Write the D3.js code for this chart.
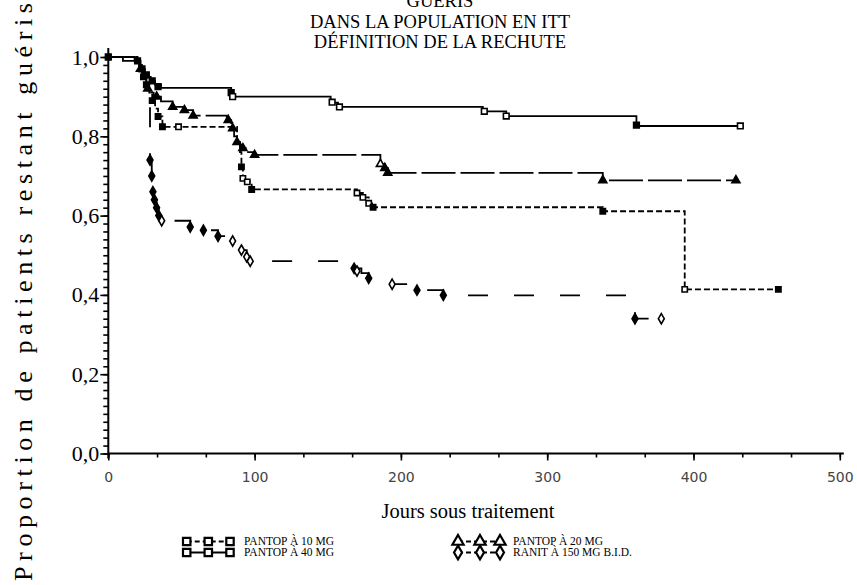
<!DOCTYPE html>
<html>
<head>
<meta charset="utf-8">
<script src="https://cdn.jsdelivr.net/npm/d3@7"></script>
<style>
body { margin: 0; background: #fff; }
svg { display: block; }
text { font-family: "Liberation Serif", "Times New Roman", serif; fill: #000; }
</style>
</head>
<body>
<div id="chart"></div>
<script>
// chart text
var titleLines = ["GUÉRIS", "DANS LA POPULATION EN ITT", "DÉFINITION DE LA RECHUTE"];
var xLabel = "Jours sous traitement";
var yLabel = "Proportion de patients restant guéris";
var xTicks = [0, 100, 200, 300, 400, 500];
var yTicks = [0, 0.2, 0.4, 0.6, 0.8, 1.0];

// Kaplan-Meier steps: [day, proportion]
var pantop40Steps = [[0, 1], [10, 0.99], [21, 0.98], [23, 0.97], [25, 0.96], [27, 0.95], [29, 0.94], [32, 0.93],
  [36, 0.922], [84, 0.90], [152, 0.885], [157, 0.874], [256, 0.863], [272, 0.851], [361, 0.826]];
var pantop40End = 432;
var pantop20Steps = [[0, 1], [18, 0.99], [21, 0.97], [23, 0.95], [26, 0.93], [28, 0.91], [31, 0.90], [36, 0.888],
  [44, 0.874], [52, 0.866], [58, 0.852], [81, 0.841], [84, 0.82], [86, 0.80], [88, 0.785], [90, 0.77], [94, 0.76],
  [100, 0.753], [186, 0.73], [189, 0.72], [191, 0.708], [338, 0.689]];
var pantop20End = 429;
var pantop10Steps = [[0, 1], [20, 0.99], [22, 0.97], [24, 0.95], [26, 0.93], [28, 0.91], [30, 0.89], [32, 0.87],
  [34, 0.85], [37, 0.824], [88, 0.79], [90, 0.76], [91, 0.723], [92, 0.694], [95, 0.685], [98, 0.666],
  [170, 0.657], [174, 0.646], [178, 0.631], [181, 0.621], [338, 0.611], [394, 0.414]];
var pantop10End = 458;
var ranitSteps = [[0, 1], [19, 0.99], [22, 0.97], [24, 0.95], [26, 0.93], [27, 0.91], [28, 0.88], [28.5, 0.74],
  [29.7, 0.70], [30.5, 0.66], [31.5, 0.64], [33, 0.62], [34.5, 0.60], [36.5, 0.587], [56, 0.571], [65, 0.563],
  [75, 0.548], [85, 0.536], [91, 0.513], [94.6, 0.496], [97, 0.485], [168, 0.467], [173, 0.455], [178, 0.442],
  [194, 0.427], [211, 0.412], [229, 0.399], [360, 0.34]];
var ranitEnd = 378;

// plotted symbols: [day, proportion, filled]
var pantop40Marks = [[0, 1, 1], [20, 0.99, 1], [23, 0.97, 1], [26, 0.955, 1], [30, 0.94, 1], [34, 0.925, 1],
  [84, 0.91, 1], [85, 0.90, 0], [153, 0.886, 0], [158, 0.874, 0], [257, 0.863, 0], [272, 0.851, 0],
  [361, 0.828, 1], [432, 0.826, 0]];
var pantop20Marks = [[22, 0.97, 1], [27, 0.92, 1], [33, 0.90, 1], [44, 0.874, 1], [52, 0.866, 1], [58, 0.852, 1],
  [82, 0.841, 1], [85, 0.82, 1], [88, 0.785, 1], [92, 0.77, 1], [100, 0.753, 1], [186, 0.73, 0],
  [189, 0.72, 1], [191, 0.708, 1], [338, 0.689, 1], [429, 0.689, 1]];
var pantop10Marks = [[24, 0.95, 1], [26, 0.93, 1], [30, 0.89, 1], [34, 0.85, 1], [37, 0.824, 1], [48, 0.824, 0],
  [91, 0.723, 1], [92, 0.694, 0], [95, 0.685, 0], [98, 0.666, 1], [170, 0.657, 0], [174, 0.646, 0],
  [178, 0.631, 0], [181, 0.621, 1], [338, 0.611, 1], [394, 0.414, 0], [458, 0.414, 1]];
var ranitMarks = [[28.5, 0.74, 1], [29.7, 0.70, 1], [30.5, 0.66, 1], [31.5, 0.64, 1], [33, 0.62, 1],
  [34.5, 0.60, 1], [36.5, 0.587, 0], [56, 0.571, 1], [65, 0.563, 1], [75, 0.548, 1], [85, 0.536, 0],
  [91, 0.513, 0], [94.6, 0.496, 0], [97, 0.485, 0], [168, 0.467, 1], [170, 0.46, 0], [178, 0.442, 1],
  [194, 0.427, 0], [211, 0.412, 1], [229, 0.399, 1], [360, 0.34, 1], [378, 0.34, 0]];

var seriesNames = ["PANTOP À 10 MG", "PANTOP À 40 MG", "PANTOP À 20 MG", "RANIT À 150 MG B.I.D."];

var svgWidth = 857;
var svgHeight = 585;

var svg = d3.select("#chart")
  .append("svg")
  .attr("width", svgWidth)
  .attr("height", svgHeight);

var x = d3.scaleLinear().domain([0, 500]).range([108.3, 839.8]);
var y = d3.scaleLinear().domain([0, 1]).range([453.5, 57]);

var series = [
  { name: seriesNames[3], steps: ranitSteps, end: ranitEnd, marks: ranitMarks, dash: "20,26", symbol: d3.symbolDiamond, size: 30 },
  { name: seriesNames[0], steps: pantop10Steps, end: pantop10End, marks: pantop10Marks, dash: "6,3", symbol: d3.symbolSquare, size: 28 },
  { name: seriesNames[2], steps: pantop20Steps, end: pantop20End, marks: pantop20Marks, dash: "34,5", symbol: d3.symbolTriangle, size: 28 },
  { name: seriesNames[1], steps: pantop40Steps, end: pantop40End, marks: pantop40Marks, dash: null, symbol: d3.symbolSquare, size: 32 }
];

// title
svg.append("g").selectAll("text")
  .data(titleLines)
  .enter()
  .append("text")
  .attr("x", 440)
  .attr("y", (d, i) => [7, 28, 48][i])
  .attr("text-anchor", "middle")
  .attr("font-size", "18.5px")
  .text(d => d);

// y axis: minor ticks then major ticks with labels
var fmt = d => d3.format(".1f")(d).replace(".", ",");
svg.append("g")
  .attr("transform", `translate(${x(0)},0)`)
  .call(d3.axisLeft(y).tickValues(d3.range(0, 51).map(i => i / 50)).tickSize(5).tickFormat(""))
  .call(g => g.select(".domain").remove())
  .selectAll("line").attr("stroke-width", 1.6);
var yAxis = svg.append("g")
  .attr("transform", `translate(${x(0)},0)`)
  .call(d3.axisLeft(y).tickValues(yTicks).tickSize(8).tickPadding(1).tickFormat(fmt));
yAxis.select(".domain").remove();
yAxis.selectAll("line").attr("stroke-width", 1.6);
yAxis.selectAll("text")
  .style("font-family", "'Liberation Serif', serif")
  .style("font-size", "22px")
  .style("fill", "#000");

// x axis
svg.append("g")
  .attr("transform", `translate(0,${y(0)})`)
  .call(d3.axisBottom(x).tickValues(d3.range(0, 16).map(i => i * 100 / 3)).tickSize(4).tickFormat(""))
  .call(g => g.select(".domain").remove())
  .selectAll("line").attr("stroke-width", 1.6);
var xAxis = svg.append("g")
  .attr("transform", `translate(0,${y(0)})`)
  .call(d3.axisBottom(x).tickValues(xTicks).tickSize(7).tickPadding(12));
xAxis.select(".domain").remove();
xAxis.selectAll("line").attr("stroke-width", 1.6);
xAxis.selectAll("text")
  .style("font-family", "'DejaVu Sans', sans-serif")
  .style("font-size", "14px")
  .style("fill", "#444");

// axis lines
svg.append("line")
  .attr("x1", x(0)).attr("x2", x(0))
  .attr("y1", 48).attr("y2", y(0) + 5)
  .attr("stroke", "#000").attr("stroke-width", 2);
svg.append("line")
  .attr("x1", x(0)).attr("x2", x(500) + 4)
  .attr("y1", y(0)).attr("y2", y(0))
  .attr("stroke", "#000").attr("stroke-width", 2);

// axis titles
svg.append("text")
  .attr("x", 468)
  .attr("y", 518)
  .attr("text-anchor", "middle")
  .attr("font-size", "20.5px")
  .text(xLabel);

svg.append("text")
  .attr("transform", "translate(32,292) rotate(-90)")
  .attr("text-anchor", "middle")
  .attr("font-size", "26px")
  .attr("textLength", 578)
  .attr("lengthAdjust", "spacing")
  .text(yLabel);

// curves
var line = d3.line()
  .x(d => x(d[0]))
  .y(d => y(d[1]))
  .curve(d3.curveStepAfter);

var curves = svg.append("g");
series.forEach(function(s) {
  var pts = s.steps.concat([[s.end, s.steps[s.steps.length - 1][1]]]);
  curves.append("path")
    .attr("d", line(pts))
    .attr("fill", "none")
    .attr("stroke", "#000")
    .attr("stroke-width", 1.8)
    .attr("stroke-dasharray", s.dash);

  curves.append("g").selectAll("path")
    .data(s.marks)
    .enter()
    .append("path")
    .attr("d", d3.symbol().type(s.symbol).size(s.size))
    .attr("transform", d => `translate(${x(d[0])},${y(d[1])})`)
    .attr("fill", d => d[2] ? "#000" : "#fff")
    .attr("stroke", "#000")
    .attr("stroke-width", 1.6);
});

// legend
var legendRows = [
  { s: series[1], gx: [186.7, 208.3, 230], ty: 541.5, tx: 244 },
  { s: series[3], gx: [186.7, 208.3, 230], ty: 552.5, tx: 244 },
  { s: series[2], gx: [458, 480, 500], ty: 541.5, tx: 513 },
  { s: series[0], gx: [458, 480, 500], ty: 552.5, tx: 513 }
];
var legend = svg.append("g");
legendRows.forEach(function(r) {
  legend.append("line")
    .attr("x1", r.gx[0]).attr("x2", r.gx[2])
    .attr("y1", r.ty).attr("y2", r.ty)
    .attr("stroke", "#000")
    .attr("stroke-width", 1.8)
    .attr("stroke-dasharray", r.s.dash ? "5,3" : null);
  legend.append("g").selectAll("path")
    .data(r.gx)
    .enter()
    .append("path")
    .attr("d", d3.symbol().type(r.s.symbol).size(55))
    .attr("transform", d => `translate(${d},${r.ty})`)
    .attr("fill", "#fff")
    .attr("stroke", "#000")
    .attr("stroke-width", 2.2);
  legend.append("text")
    .attr("x", r.tx)
    .attr("y", r.ty + 3.5)
    .attr("font-size", "11.5px")
    .text(r.s.name);
});
</script>
</body>
</html>
